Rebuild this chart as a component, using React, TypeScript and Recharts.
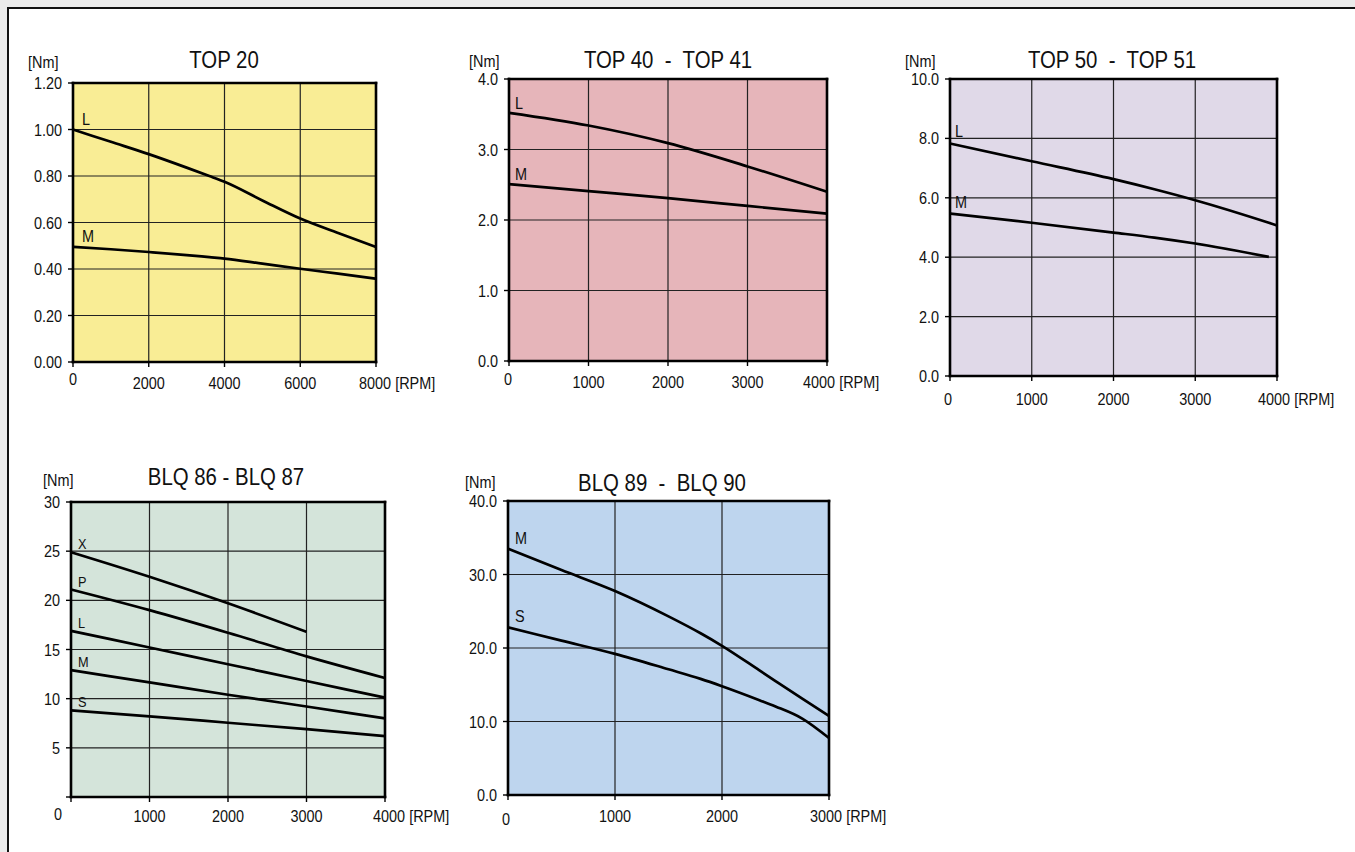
import { LineChart, Line, XAxis, YAxis, CartesianGrid } from "recharts";

const FONT = "'Liberation Sans', Arial, sans-serif";
const SX = 0.85; // condensed look

// TOP 20
const top20Rpm = [0, 1000, 2000, 3000, 3600, 4000, 5000, 6000, 7000, 8000];
const top20L = [1.0, 0.947, 0.894, 0.836, 0.8, 0.775, 0.695, 0.617, 0.555, 0.495];
const top20M = [0.495, 0.485, 0.473, 0.46, 0.451, 0.445, 0.423, 0.401, 0.38, 0.358];
const top20XTicks = [0, 2000, 4000, 6000, 8000];
const top20YTicks = [0, 0.2, 0.4, 0.6, 0.8, 1.0, 1.2];

// TOP 40 - TOP 41
const top40Rpm = [0, 1000, 2000, 3000, 4000];
const top40L = [3.52, 3.34, 3.09, 2.76, 2.4];
const top40M = [2.51, 2.41, 2.31, 2.2, 2.09];
const top40XTicks = [0, 1000, 2000, 3000, 4000];
const top40YTicks = [0, 1, 2, 3, 4];

// TOP 50 - TOP 51
const top50Rpm = [0, 1000, 2000, 2500, 3000, 3900, 4000];
const top50L = [7.83, 7.23, 6.63, 6.29, 5.92, 5.16, 5.07];
const top50M = [5.47, 5.16, 4.83, 4.66, 4.46, 4.01, null];
const top50XTicks = [0, 1000, 2000, 3000, 4000];
const top50YTicks = [0, 2, 4, 6, 8, 10];

// BLQ 86 - BLQ 87
const blq86Rpm = [0, 1000, 2000, 3000, 4000];
const blq86X = [24.9, 22.4, 19.7, 16.8, null];
const blq86P = [21.1, 19.0, 16.7, 14.3, 12.1];
const blq86L = [16.9, 15.2, 13.5, 11.8, 10.1];
const blq86M = [12.9, 11.65, 10.4, 9.2, 8.0];
const blq86S = [8.8, 8.2, 7.55, 6.9, 6.2];
const blq86XTicks = [0, 1000, 2000, 3000, 4000];
const blq86YTicks = [0, 5, 10, 15, 20, 25, 30];

// BLQ 89 - BLQ 90
const blq89Rpm = [0, 500, 1000, 1500, 1800, 2000, 2350, 2500, 2750, 3000];
const blq89M = [33.5, 30.6, 27.75, 24.3, 22.0, 20.3, 16.95, 15.5, 13.1, 10.75];
const blq89S = [22.8, 21.0, 19.2, 17.1, 15.8, 14.8, 12.9, 12.05, 10.4, 7.75];
const blq89XTicks = [0, 1000, 2000, 3000];
const blq89YTicks = [0, 10, 20, 30, 40];

const buildRows = (rpm: number[], series: Record<string, (number | null)[]>) =>
  rpm.map((r, i) => {
    const row: Record<string, number | null> = { rpm: r };
    Object.keys(series).forEach((k) => (row[k] = series[k][i]));
    return row;
  });

const YW = 70;
const RW = 90;
const TH = 12;
const XH = 50;

const panels = [
  {
    id: "top20", title: "TOP 20", bg: "#f9ed95",
    L: 73, T: 83, R: 376, B: 362,
    titleX: 224, titleY: 68, nmX: 28, nmY: 68,
    xMax: 8000, xTicks: top20XTicks, yMax: 1.2, yTicks: top20YTicks, yDec: 2, hideYZero: false,
    xLabOff: 27, zeroDx: 0, zeroDy: -4, lastDx: -17,
    labelDx: 9, labelDy: -5, labelSize: 17,
    rows: buildRows(top20Rpm, { L: top20L, M: top20M }), names: ["L", "M"],
  },
  {
    id: "top40", title: "TOP 40  -  TOP 41", bg: "#e6b5ba",
    L: 509, T: 79, R: 827, B: 361,
    titleX: 668, titleY: 68, nmX: 469, nmY: 67,
    xMax: 4000, xTicks: top40XTicks, yMax: 4, yTicks: top40YTicks, yDec: 1, hideYZero: false,
    xLabOff: 27, zeroDx: -1, zeroDy: -3, lastDx: -24,
    labelDx: 6, labelDy: -4, labelSize: 17,
    rows: buildRows(top40Rpm, { L: top40L, M: top40M }), names: ["L", "M"],
  },
  {
    id: "top50", title: "TOP 50  -  TOP 51", bg: "#e0d9e8",
    L: 950, T: 79, R: 1277, B: 376,
    titleX: 1112, titleY: 68, nmX: 905, nmY: 67,
    xMax: 4000, xTicks: top50XTicks, yMax: 10, yTicks: top50YTicks, yDec: 1, hideYZero: false,
    xLabOff: 29, zeroDx: -2, zeroDy: 0, lastDx: -19,
    labelDx: 5, labelDy: -6, labelSize: 17,
    rows: buildRows(top50Rpm, { L: top50L, M: top50M }), names: ["L", "M"],
  },
  {
    id: "blq86", title: "BLQ 86 - BLQ 87", bg: "#d4e4da",
    L: 71, T: 502, R: 385, B: 797,
    titleX: 226, titleY: 485, nmX: 43, nmY: 486,
    xMax: 4000, xTicks: blq86XTicks, yMax: 30, yTicks: blq86YTicks, yDec: 0, hideYZero: true,
    xLabOff: 25, zeroDx: -13, zeroDy: -2, lastDx: -12,
    labelDx: 7, labelDy: -3, labelSize: 15,
    rows: buildRows(blq86Rpm, { X: blq86X, P: blq86P, L: blq86L, M: blq86M, S: blq86S }),
    names: ["X", "P", "L", "M", "S"],
  },
  {
    id: "blq89", title: "BLQ 89  -  BLQ 90", bg: "#bed5ee",
    L: 508, T: 501, R: 829, B: 795,
    titleX: 662, titleY: 491, nmX: 465, nmY: 488,
    xMax: 3000, xTicks: blq89XTicks, yMax: 40, yTicks: blq89YTicks, yDec: 1, hideYZero: false,
    xLabOff: 27, zeroDx: -2, zeroDy: 3, lastDx: -19,
    labelDx: 7, labelDy: -5, labelSize: 17,
    rows: buildRows(blq89Rpm, { M: blq89M, S: blq89S }), names: ["M", "S"],
  },
];

type Panel = (typeof panels)[number];

const axisLine = { stroke: "#000", strokeWidth: 2.6, strokeLinecap: "square" as const };
const tickLine = { stroke: "#000", strokeWidth: 1.4 };

// narrow text: plain Liberation Sans squeezed horizontally
function Txt({ x, y, size = 17, anchor = "start", children }: any) {
  return (
    <text
      transform={`translate(${x},${y}) scale(${SX},1)`}
      textAnchor={anchor}
      fontSize={size}
      fontFamily={FONT}
      fill="#111"
      style={{ whiteSpace: "pre" }}
    >
      {children}
    </text>
  );
}

function Chart({ p }: { p: Panel }) {
  const w = p.R - p.L + YW + RW;
  const h = p.B - p.T + TH + XH;
  const xTick = (props: any) => {
    const v = props.payload.value;
    const base = props.y - 5 + p.xLabOff;
    if (v === 0) return <Txt x={props.x + p.zeroDx} y={base + p.zeroDy} anchor="middle">0</Txt>;
    if (v === p.xMax) return <Txt x={props.x + p.lastDx} y={base}>{`${v} [RPM]`}</Txt>;
    return <Txt x={props.x} y={base} anchor="middle">{v}</Txt>;
  };
  const yTick = (props: any) => {
    const v = props.payload.value;
    if (p.hideYZero && v === 0) return <g />;
    return <Txt x={props.x} y={props.y + 6} anchor="end">{v.toFixed(p.yDec)}</Txt>;
  };
  return (
    <div style={{ position: "absolute", left: p.L - YW, top: p.T - TH }}>
      <LineChart width={w} height={h} data={p.rows} margin={{ top: 0, right: 0, bottom: 0, left: 0 }}>
        <CartesianGrid stroke="#222" strokeWidth={1.2} fill={p.bg} fillOpacity={1} />
        <XAxis
          dataKey="rpm" type="number" domain={[0, p.xMax]} ticks={p.xTicks}
          height={XH} tickSize={5} tickMargin={0} axisLine={axisLine} tickLine={tickLine} tick={xTick}
        />
        <XAxis
          xAxisId="top" orientation="top" dataKey="rpm" type="number" domain={[0, p.xMax]} ticks={p.xTicks}
          height={TH} tickSize={5} axisLine={axisLine} tickLine={tickLine} tick={false}
        />
        <YAxis
          type="number" domain={[0, p.yMax]} ticks={p.yTicks} width={YW} tickSize={5} tickMargin={6}
          axisLine={axisLine} tickLine={tickLine} tick={yTick}
        />
        <YAxis
          yAxisId="right" orientation="right" type="number" domain={[0, p.yMax]} ticks={p.yTicks}
          width={RW} tickSize={5} axisLine={axisLine} tickLine={tickLine} tick={false}
        />
        {p.names.map((name) => (
          <Line
            key={name}
            dataKey={name}
            type="monotone"
            stroke="#000"
            strokeWidth={2.7}
            isAnimationActive={false}
            activeDot={false}
            dot={(d: any) =>
              d.index === 0 ? (
                <Txt key={`lbl-${name}`} x={d.cx + p.labelDx} y={d.cy + p.labelDy} size={p.labelSize}>
                  {name}
                </Txt>
              ) : (
                <g key={`dot-${name}-${d.index}`} />
              )
            }
          />
        ))}
      </LineChart>
    </div>
  );
}

export default function App() {
  return (
    <div style={{ position: "absolute", left: 0, top: 0, width: 1355, height: 852, overflow: "hidden", background: "#ebebeb", fontFamily: FONT }}>
      <div style={{ position: "absolute", left: 7, top: 7, width: 1400, height: 900, borderLeft: "2px solid #111", borderTop: "2px solid #111", background: "#fff" }} />
      {panels.map((p) => (
        <Chart key={p.id} p={p} />
      ))}
      <svg width={1355} height={852} style={{ position: "absolute", left: 0, top: 0, pointerEvents: "none" }}>
        {panels.map((p) => (
          <g key={p.id}>
            <Txt x={p.titleX} y={p.titleY} size={24} anchor="middle">{p.title}</Txt>
            <Txt x={p.nmX} y={p.nmY} size={17}>[Nm]</Txt>
          </g>
        ))}
      </svg>
    </div>
  );
}
